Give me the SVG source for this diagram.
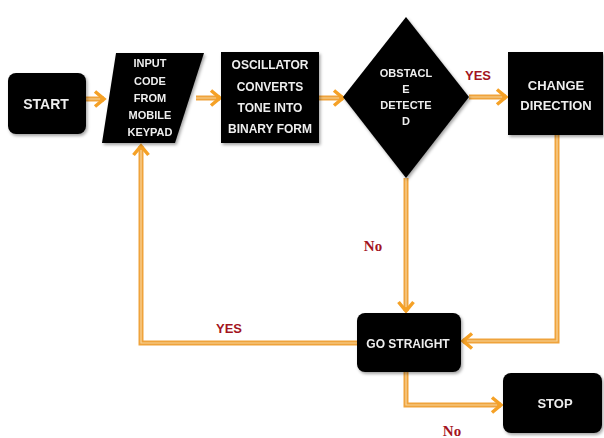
<svg xmlns="http://www.w3.org/2000/svg" width="604" height="438" viewBox="0 0 604 438">
<style>
.node{fill:#000}
.t{fill:#eeeeee;font-family:"Liberation Sans",Arial,sans-serif;font-weight:bold;text-anchor:middle;dominant-baseline:central}
.c{fill:none;stroke:#EFA33C;stroke-width:5;stroke-linejoin:miter}
.ci{fill:none;stroke:#F8D59A;stroke-width:1.2}
.lbl{fill:#A3141E;font-weight:bold;text-anchor:middle;dominant-baseline:central}
</style>
<defs>
<marker id="ah" viewBox="0 0 14 18" markerWidth="14" markerHeight="18" refX="11" refY="9" orient="auto" markerUnits="userSpaceOnUse">
<path d="M2,1.5 L11,9 L2,16.5" fill="none" stroke="#F5A126" stroke-width="3.5"/>
</marker>
<filter id="sh" x="-10%" y="-10%" width="130%" height="130%">
<feDropShadow dx="1.5" dy="2" stdDeviation="1.5" flood-color="#000" flood-opacity="0.35"/>
</filter>
</defs>
<g id="connectors">
<path class="c" d="M86,99 L104,99" marker-end="url(#ah)"/>
<path class="c" d="M196,98 L220,98" marker-end="url(#ah)"/>
<path class="c" d="M319,98 L343,98" marker-end="url(#ah)"/>
<path class="c" d="M469,97 L506,97" marker-end="url(#ah)"/>
<path class="c" d="M406,178 L406,311" marker-end="url(#ah)"/>
<path class="c" d="M557,135 L557,341 L463,341" marker-end="url(#ah)"/>
<path class="c" d="M357,343 L141,343 L141,146" marker-end="url(#ah)"/>
<path class="c" d="M406,372 L406,405 L501,405" marker-end="url(#ah)"/>
<path class="ci" d="M86,99 L100,99 M196,98 L216,98 M319,98 L339,98 M469,97 L502,97 M406,178 L406,307 M557,135 L557,341 L467,341 M357,343 L141,343 L141,150 M406,372 L406,405 L497,405"/>
</g>
<g id="start" filter="url(#sh)">
<rect class="node" x="8" y="73" width="78" height="61" rx="8"/>
<text class="t" x="46" y="104" font-size="14">START</text>
</g>
<g id="input" filter="url(#sh)">
<polygon class="node" points="116,53 204,53 175,143 102,143"/>
<text class="t" x="150" y="63" font-size="11">INPUT</text>
<text class="t" x="150" y="81" font-size="11">CODE</text>
<text class="t" x="150" y="98" font-size="11">FROM</text>
<text class="t" x="150" y="115" font-size="11">MOBILE</text>
<text class="t" x="150" y="132" font-size="11">KEYPAD</text>
</g>
<g id="oscillator" filter="url(#sh)">
<rect class="node" x="221" y="52" width="98" height="91"/>
<text class="t" x="270" y="65" font-size="12">OSCILLATOR</text>
<text class="t" x="270" y="87" font-size="12">CONVERTS</text>
<text class="t" x="270" y="108" font-size="12">TONE INTO</text>
<text class="t" x="270" y="129" font-size="12">BINARY FORM</text>
</g>
<g id="obstacle" filter="url(#sh)">
<polygon class="node" points="406,17 469,97 406,178 343,97"/>
<text class="t" x="406" y="73" font-size="11">OBSTACL</text>
<text class="t" x="406" y="89" font-size="11">E</text>
<text class="t" x="406" y="105" font-size="11">DETECTE</text>
<text class="t" x="406" y="121" font-size="11">D</text>
</g>
<g id="change" filter="url(#sh)">
<rect class="node" x="508" y="52" width="95" height="83"/>
<text class="t" x="556" y="85" font-size="13">CHANGE</text>
<text class="t" x="556" y="105" font-size="13">DIRECTION</text>
</g>
<g id="gostraight" filter="url(#sh)">
<rect class="node" x="357" y="313" width="104" height="59" rx="8"/>
<text class="t" x="408" y="344" font-size="12">GO STRAIGHT</text>
</g>
<g id="stop" filter="url(#sh)">
<rect class="node" x="503" y="373" width="99" height="60" rx="8"/>
<text class="t" x="555" y="403" font-size="13">STOP</text>
</g>
<g id="labels">
<text class="lbl" x="478" y="75" font-size="13" font-family="Liberation Sans, Arial, sans-serif">YES</text>
<text class="lbl" x="373" y="246" font-size="15" font-family="Liberation Serif, Times New Roman, serif">No</text>
<text class="lbl" x="229" y="328" font-size="13" font-family="Liberation Sans, Arial, sans-serif">YES</text>
<text class="lbl" x="452" y="431" font-size="15" font-family="Liberation Serif, Times New Roman, serif">No</text>
</g>
</svg>
